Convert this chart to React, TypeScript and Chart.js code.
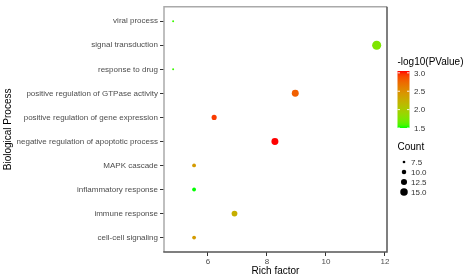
import React, { useEffect, useRef } from "react";
import { Chart, registerables } from "chart.js";

Chart.register(...registerables);

const categories = [
  "viral process",
  "signal transduction",
  "response to drug",
  "positive regulation of GTPase activity",
  "positive regulation of gene expression",
  "negative regulation of apoptotic process",
  "MAPK cascade",
  "inflammatory response",
  "immune response",
  "cell-cell signaling",
];
const richFactor = [4.82, 11.72, 4.82, 8.96, 6.21, 8.27, 5.53, 5.53, 6.9, 5.53];
const logP = [1.55, 1.75, 1.55, 2.8, 2.95, 3.05, 2.4, 1.5, 2.25, 2.4];
const counts = [6, 18, 6, 14, 11, 14, 9, 9, 12, 9];
const xTicks = [6, 8, 10, 12];
const colorTicks = [3.0, 2.5, 2.0, 1.5];
const sizeTicks = [7.5, 10.0, 12.5, 15.0];
const colorMin = 1.5;
const colorMax = 3.05;

// sRGB <-> Lab helpers for ggplot-like gradient
function srgbToLin(c: number) {
  c /= 255;
  return c <= 0.04045 ? c / 12.92 : Math.pow((c + 0.055) / 1.055, 2.4);
}
function linToSrgb(c: number) {
  const v = c <= 0.0031308 ? 12.92 * c : 1.055 * Math.pow(c, 1 / 2.4) - 0.055;
  return Math.max(0, Math.min(255, Math.round(v * 255)));
}
const Xn = 0.95047, Yn = 1.0, Zn = 1.08883;
function f(t: number) {
  return t > 0.008856 ? Math.cbrt(t) : 7.787 * t + 16 / 116;
}
function finv(t: number) {
  return t > 0.206893 ? t * t * t : (t - 16 / 116) / 7.787;
}
function rgbToLab(r: number, g: number, b: number) {
  const R = srgbToLin(r), G = srgbToLin(g), B = srgbToLin(b);
  const X = R * 0.4124 + G * 0.3576 + B * 0.1805;
  const Y = R * 0.2126 + G * 0.7152 + B * 0.0722;
  const Z = R * 0.0193 + G * 0.1192 + B * 0.9505;
  const fx = f(X / Xn), fy = f(Y / Yn), fz = f(Z / Zn);
  return [116 * fy - 16, 500 * (fx - fy), 200 * (fy - fz)];
}
function labToRgb(L: number, a: number, b: number) {
  const fy = (L + 16) / 116, fx = fy + a / 500, fz = fy - b / 200;
  const X = Xn * finv(fx), Y = Yn * finv(fy), Z = Zn * finv(fz);
  const R = X * 3.2406 + Y * -1.5372 + Z * -0.4986;
  const G = X * -0.9689 + Y * 1.8758 + Z * 0.0415;
  const B = X * 0.0557 + Y * -0.204 + Z * 1.057;
  return `rgb(${linToSrgb(R)},${linToSrgb(G)},${linToSrgb(B)})`;
}
const labLow = rgbToLab(0, 255, 0);
const labHigh = rgbToLab(255, 0, 0);
function colorFor(v: number) {
  const t = Math.max(0, Math.min(1, (v - colorMin) / (colorMax - colorMin)));
  return labToRgb(
    labLow[0] + (labHigh[0] - labLow[0]) * t,
    labLow[1] + (labHigh[1] - labLow[1]) * t,
    labLow[2] + (labHigh[2] - labLow[2]) * t
  );
}
function radiusFor(n: number) {
  return Math.max(1.0, 2.12 * Math.sqrt(n) - 4.46);
}

const FONT = "'Liberation Sans', Arial, sans-serif";

const legendPlugin = {
  id: "customLegend",
  afterDraw(chart: any) {
    const ctx = chart.ctx as CanvasRenderingContext2D;
    const ca = chart.chartArea;
    ctx.save();
    // panel border
    ctx.lineWidth = 1.5;
    ctx.strokeStyle = "#aaaaaa";
    ctx.beginPath();
    ctx.moveTo(ca.left, ca.bottom);
    ctx.lineTo(ca.left, ca.top);
    ctx.lineTo(ca.right, ca.top);
    ctx.stroke();
    ctx.strokeStyle = "#555555";
    ctx.beginPath();
    ctx.moveTo(ca.right, ca.top);
    ctx.lineTo(ca.right, ca.bottom);
    ctx.lineTo(ca.left - 0.75, ca.bottom);
    ctx.stroke();

    // color legend
    const lx = 397.5;
    ctx.fillStyle = "#000";
    ctx.font = `10px ${FONT}`;
    ctx.textBaseline = "middle";
    ctx.textAlign = "left";
    ctx.fillText("-log10(PValue)", lx, 62);
    const barTop = 71, barBot = 128, barW = 12;
    const grad = ctx.createLinearGradient(0, barBot, 0, barTop);
    for (let i = 0; i <= 20; i++) {
      const v = colorMin + ((colorMax - colorMin) * i) / 20;
      grad.addColorStop(i / 20, colorFor(v));
    }
    ctx.fillStyle = grad;
    ctx.fillRect(lx, barTop, barW, barBot - barTop);
    const yOf = (v: number) => barBot - ((v - colorMin) / (colorMax - colorMin)) * (barBot - barTop);
    ctx.font = `8px ${FONT}`;
    colorTicks.forEach((v) => {
      const y = yOf(v);
      ctx.strokeStyle = "rgba(255,255,255,0.9)";
      ctx.lineWidth = 1;
      ctx.beginPath();
      ctx.moveTo(lx, y);
      ctx.lineTo(lx + 2.5, y);
      ctx.moveTo(lx + barW - 2.5, y);
      ctx.lineTo(lx + barW, y);
      ctx.stroke();
      ctx.fillStyle = "#333";
      ctx.fillText(v.toFixed(1), 414, y + 0.5);
    });

    // size legend
    ctx.fillStyle = "#000";
    ctx.font = `10px ${FONT}`;
    ctx.fillText("Count", lx, 147);
    ctx.font = `8px ${FONT}`;
    const sizeY = [162, 172, 182, 192];
    sizeTicks.forEach((v, i) => {
      ctx.fillStyle = "#000";
      ctx.beginPath();
      ctx.arc(404, sizeY[i], radiusFor(v), 0, Math.PI * 2);
      ctx.fill();
      ctx.fillStyle = "#333";
      ctx.fillText(v.toFixed(1), 411, sizeY[i] + 0.5);
    });
    ctx.restore();
  },
};

export default function App() {
  const ref = useRef<HTMLCanvasElement>(null);
  useEffect(() => {
    if (!ref.current) return;
    const data = categories.map((c, i) => ({ x: richFactor[i], y: i }));
    const chart = new Chart(ref.current, {
      type: "scatter",
      data: {
        datasets: [
          {
            data,
            pointRadius: counts.map(radiusFor),
            pointHoverRadius: counts.map(radiusFor),
            pointBackgroundColor: logP.map(colorFor),
            pointBorderWidth: 0,
            borderWidth: 0,
          } as any,
        ],
      },
      options: {
        animation: false,
        responsive: false,
        devicePixelRatio: 1,
        layout: { padding: { top: 5, right: 80, left: 0, bottom: 0 } },
        plugins: { legend: { display: false }, tooltip: { enabled: false } },
        scales: {
          x: {
            type: "linear",
            min: 4.51,
            max: 12.07,
            afterBuildTicks: (s: any) => {
              s.ticks = xTicks.map((v) => ({ value: v }));
            },
            afterFit: (s: any) => {
              s.height = 26;
            },
            grid: { drawOnChartArea: false, drawTicks: true, tickLength: 4, color: "#333", lineWidth: 1 },
            border: { display: false },
            ticks: { color: "#4D4D4D", font: { family: FONT, size: 8 }, padding: 1, maxRotation: 0 },
            title: { display: true, text: "Rich factor", color: "#000", font: { family: FONT, size: 10 }, padding: { top: 0, bottom: 1 } },
          },
          y: {
            type: "linear",
            min: -0.6,
            max: 9.6,
            reverse: true,
            afterBuildTicks: (s: any) => {
              s.ticks = categories.map((_, i) => ({ value: i }));
            },
            afterFit: (s: any) => {
              s.width = 164;
            },
            grid: { drawOnChartArea: false, drawTicks: true, tickLength: 4, color: "#333", lineWidth: 1 },
            border: { display: false },
            ticks: {
              color: "#4D4D4D",
              font: { family: FONT, size: 8 },
              padding: 2,
              autoSkip: false,
              callback: (v: any) => categories[v as number] ?? "",
            },
            title: { display: true, text: "Biological Process", color: "#000", font: { family: FONT, size: 10 }, padding: { top: 2, bottom: 0 } },
          },
        },
      },
      plugins: [legendPlugin],
    });
    return () => chart.destroy();
  }, []);
  return (
    <div style={{ position: "fixed", left: 0, top: 0, width: 467, height: 278, background: "#fff" }}>
      <canvas ref={ref} width={467} height={278} style={{ width: 467, height: 278, display: "block" }} />
    </div>
  );
}
